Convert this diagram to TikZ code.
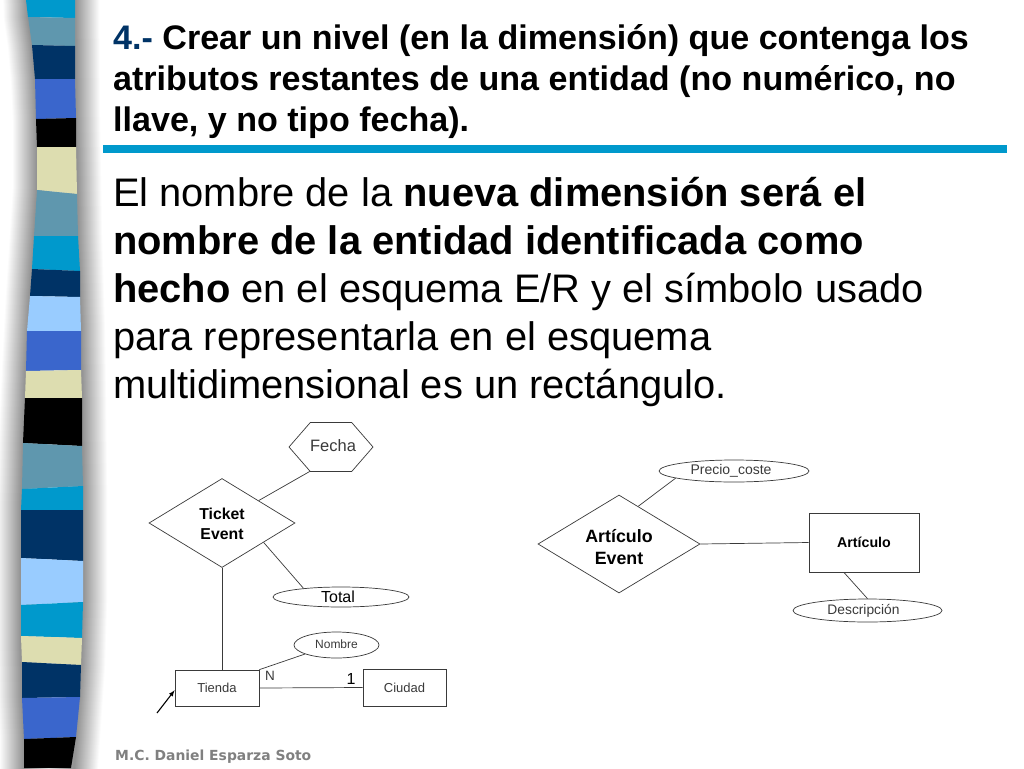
\documentclass[tikz,border=0pt]{standalone}
\usepackage{fontspec}
\setmainfont{Liberation Sans}
\newfontfamily\piefont{DejaVu Sans}
\usetikzlibrary{shapes.geometric,shapes.symbols}

\definecolor{franjacian}{HTML}{0099CC}
\definecolor{franjagris}{HTML}{5F97AE}
\definecolor{franjamarino}{HTML}{003366}
\definecolor{franjaazul}{HTML}{3A66CC}
\definecolor{franjacrema}{HTML}{DDDDB0}
\definecolor{franjaclaro}{HTML}{99CCFF}
\definecolor{trazo}{HTML}{3A3A3A}

\newcommand{\letra}[2]{\fontsize{#1}{#2}\selectfont}

\tikzset{
	trazoer/.style={draw=trazo, line width=0.7pt},
	entidad/.style={trazoer, rectangle, inner sep=0pt, text=trazo},
	relacion/.style={trazoer, diamond, aspect=1.65, inner sep=0pt, align=center},
	atributo/.style={trazoer, ellipse, inner sep=0pt, text=trazo},
	enlace/.style={draw=trazo, line width=0.7pt},
}

\begin{document}
\begin{tikzpicture}[x=1pt, y=-1pt]

\def \franja {(26,-40) -- (28,17) -- (32,45) -- (35,79) -- (37,119) -- (37,190) -- (34,236) -- (30,296) -- (26,371) -- (23,443) -- (21,510) -- (21,635) -- (22,697) -- (24,739) -- (24,808) -- (71,808) -- (76,737) -- (81,665) -- (83,602) -- (83,486) -- (82,398) -- (81,331) -- (78,236) -- (76,118) -- (75,-40) -- cycle}

\useasboundingbox (0,0) rectangle (1024,768);
\fill[white] (0,0) rectangle (1024,768);

% shadow of the strip, wide and light first
\foreach \k in {24,23,...,1}
{
	\pgfmathsetmacro{\tono}{(25-\k)*1.75}
	\draw[line width=2*\k pt, line join=round, color=black!\tono] \franja;
}

% strip, each band starts where the one before it ended
\foreach \lx/\ly/\rx/\ry/\col [remember=\lx as \plx (initially 26), remember=\ly as \ply (initially 0), remember=\rx as \prx (initially 75), remember=\ry as \pry (initially 0)] in {
	28/17/75/18/franjacian, 32/45/75/46/franjagris, 35/79/75/79/franjamarino, 36/119/76/118/franjaazul,
	37/147/76/147/black, 37/190/77/194/franjacrema, 34/236/78/236/franjagris, 32/269/80/271/franjacian,
	30/296/80/297/franjamarino, 27/331/81/331/franjaclaro, 26/371/81/370/franjaazul, 25/398/82/398/franjacrema,
	23/443/82/446/black, 22/489/83/486/franjagris, 21/510/83/510/franjacian, 21/558/83/561/franjamarino,
	21/605/83/602/franjaclaro, 21/636/82/638/franjacian, 22/662/81/665/franjacrema, 22/698/80/697/franjamarino,
	24/739/76/737/franjaazul, 24/768/71/768/black}
{
	\fill[\col] (\plx,\ply) -- (\prx,\pry) -- (\rx,\ry) -- (\lx,\ly) -- cycle;
}

% texts of the slide
\node[anchor=north west, inner sep=0pt, align=left, font=\bfseries\letra{34.07}{41}] (titulo) at (113,24)
	{{\color{franjamarino}4.-} Crear un nivel (en la dimensión) que contenga los\\
	atributos restantes de una entidad (no numérico, no\\
	llave, y no tipo fecha).};
\fill[franjacian] (103,145) rectangle (1007,153);
\node[anchor=north west, inner sep=0pt, align=left, font=\letra{39.85}{48}] (cuerpo) at (113,177.5)
	{El nombre de la \textbf{nueva dimensión será el}\\
	\textbf{nombre de la entidad identificada como}\\
	\textbf{hecho} en el esquema E/R y el símbolo usado\\
	para representarla en el esquema\\
	multidimensional es un rectángulo.};
\node[anchor=west, inner sep=0pt, text=black!50, font=\piefont\bfseries\letra{13.9}{16}] (pie) at (115,757)
	{M.C. Daniel Esparza Soto};

% left scheme
\node[trazoer, signal, signal to=west and east, signal pointer angle=98, inner sep=0pt, minimum width=84pt, minimum height=49pt, text=trazo, font=\letra{16.5}{18}] (fecha) at (331,447) {\raisebox{3pt}{\makebox[36pt]{\kern4pt Fecha}}};
\node[relacion, minimum width=146pt, minimum height=89pt, font=\bfseries\letra{15.8}{20}] (ticket) at (222,523) {\rule{0pt}{14pt}Ticket\\Event};
\node[atributo, minimum width=136pt, minimum height=20pt, text=black, font=\letra{16}{18}] (total) at (341,597) {Total\kern6pt};
\node[atributo, minimum width=85pt, minimum height=26pt, font=\letra{12}{14}] (nombre) at (336.5,645) {\raisebox{1pt}{Nombre}};
\node[entidad, minimum width=84pt, minimum height=36pt, font=\letra{13}{15}] (tienda) at (217,688) {Tienda};
\node[entidad, minimum width=83pt, minimum height=37pt, font=\letra{13}{15}] (ciudad) at (404.5,687.5) {Ciudad};
\node[inner sep=0pt, text=trazo, font=\letra{13.5}{15}] (ene) at (270,676) {N};
\node[inner sep=0pt, text=black, font=\letra{16}{18}] (uno) at (351,679) {1};
\coordinate (flecha) at (157,713);

\draw[enlace] (fecha.229) -- (ticket.north east);
\draw[enlace] (ticket.335) -- (total.167);
\draw[enlace] (ticket.south) -- (ticket.south |- tienda.north);
\draw[enlace] (tienda.north east) -- (nombre.196);
\draw[enlace] (tienda.east) -- (ciudad.west);
\draw[->, >=latex, black, line width=1.1pt] (flecha) -- (tienda.183);

% right scheme
\node[relacion, minimum width=162pt, minimum height=98pt, font=\bfseries\letra{17.8}{22}] (articuloevent) at (619,544) {\rule{0pt}{19pt}Artículo\\Event};
\node[atributo, minimum width=150pt, minimum height=22pt, font=\letra{14}{16}] (precio) at (734,471) {\raisebox{2pt}{Precio\_coste\kern6pt}};
\node[entidad, minimum width=110pt, minimum height=59pt, text=black, font=\bfseries\letra{14.2}{16}] (articulo) at (864,542.5) {Artículo};
\node[atributo, minimum width=149pt, minimum height=23pt, font=\letra{13.8}{16}] (descripcion) at (867.5,610.5) {\raisebox{2pt}{Descripción\kern8pt}};

\draw[enlace] (articuloevent.63) -- (precio.187);
\draw[enlace] (articuloevent.east) -- (articulo.west);
\draw[enlace] (articulo.236) -- (descripcion.north);

\end{tikzpicture}
\end{document}
